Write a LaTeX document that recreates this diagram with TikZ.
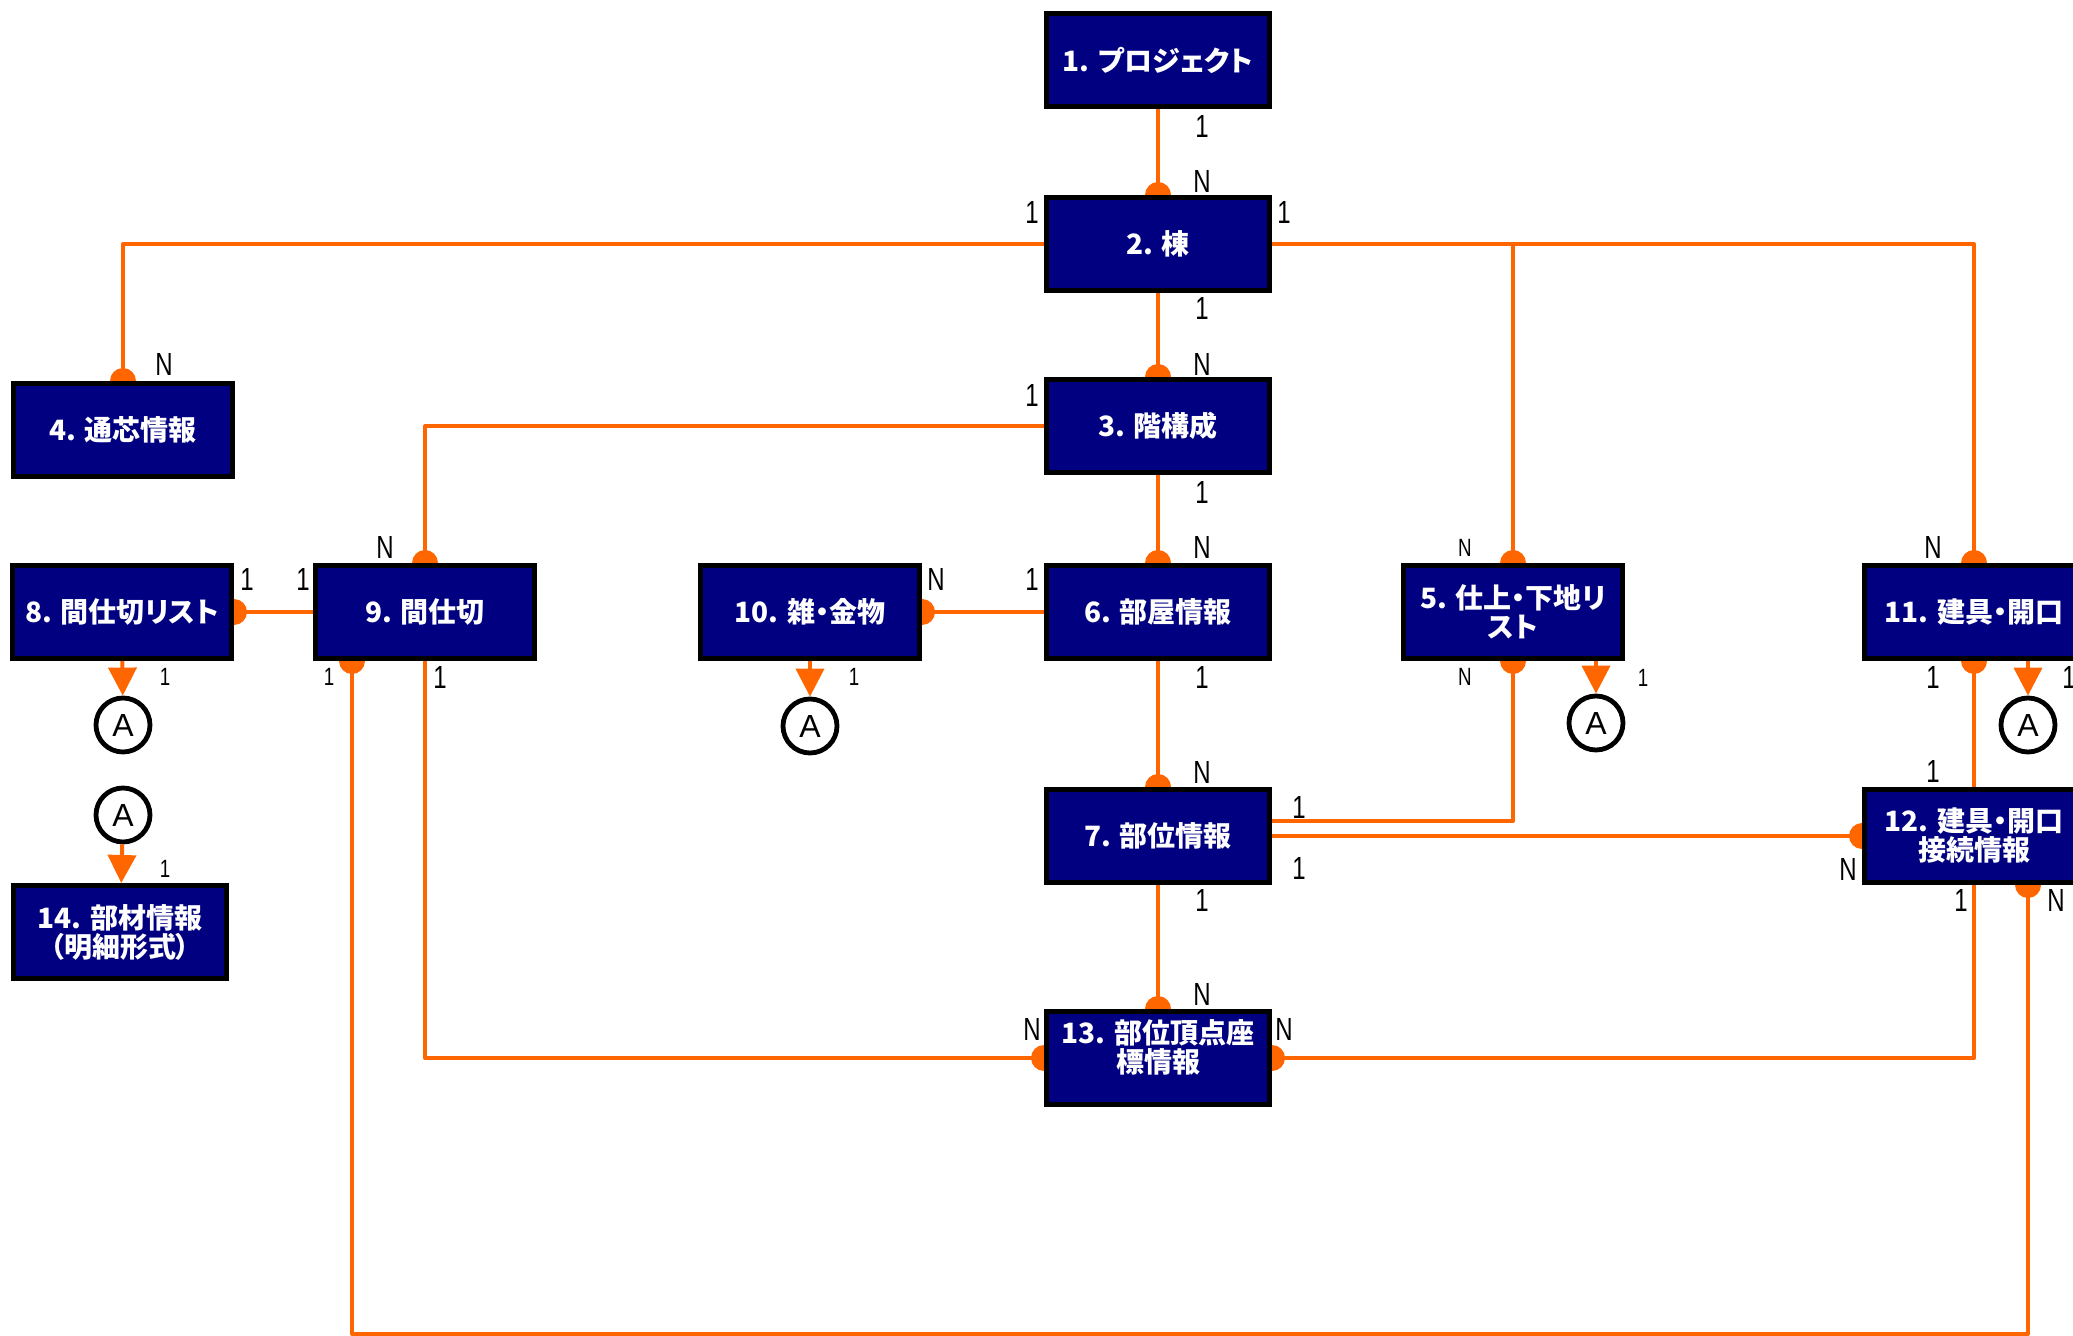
\documentclass[tikz,border=0pt]{standalone}
\usepackage{fontspec}
\newfontfamily\jpfont[RawFeature=+palt]{Noto Sans CJK JP}
\newfontfamily\lblfont[FakeStretch=0.75]{Liberation Sans}
\newfontfamily\afont{Liberation Sans}
\usetikzlibrary{arrows.meta,backgrounds}
\definecolor{boxblue}{RGB}{0,0,128}
\definecolor{linkorange}{RGB}{255,102,0}

\begin{document}
\begin{tikzpicture}[x=0.5pt,y=-0.5pt]
	\useasboundingbox (0,0) rectangle (2073,1336);
	\begin{scope}
		\tikzstyle{enttxt}=[text=white, inner sep=0pt, align=center, font=\jpfont\bfseries\fontsize{14}{14.5}\selectfont]
		\tikzstyle{ent}=[enttxt, draw=black, line width=2.5pt, fill=boxblue, minimum width=109.5pt, minimum height=46.5pt]
		\tikzstyle{wide}=[minimum width=111.5pt]
		\tikzstyle{card}=[inner sep=0pt, font=\lblfont\fontsize{16}{16}\selectfont]
		\tikzstyle{cards}=[inner sep=0pt, font=\lblfont\fontsize{12.5}{12.5}\selectfont]
		\tikzstyle{refc}=[circle, draw=black, line width=2.4pt, fill=white, minimum size=27pt, inner sep=0pt, font=\afont\fontsize{16}{16}\selectfont]
		\tikzstyle{conn}=[draw=linkorange, line width=2pt, line join=round]
		\tikzstyle{toref}=[conn, -{Triangle[length=14pt,width=14pt]}]

		\node[ent, wide] (n1)  at (1158, 60)   {1. プロジェクト};
		\node[ent, wide] (n2)  at (1158, 244)  {2. 棟};
		\node[ent, wide] (n3)  at (1158, 426)  {3. 階構成};
		\node[ent]       (n4)  at (123, 430)   {4. 通芯情報};
		\node[ent]       (n8)  at (122, 612)   {8. 間仕切リスト};
		\node[ent]       (n9)  at (425, 612)   {9. 間仕切};
		\node[ent]       (n10) at (810, 612)   {10. 雑・金物};
		\node[ent, wide] (n6)  at (1158, 612)  {6. 部屋情報};
		\node[ent]       (n5)  at (1513, 612)  {5. 仕上・下地リ\\スト};
		\node[ent]       (n11) at (1974, 612)  {11. 建具・開口};
		\node[ent, wide] (n7)  at (1158, 836)  {7. 部位情報};
		\node[ent]       (n12) at (1974, 836)  {12. 建具・開口\\接続情報};
		\node[ent, wide] (n13) at (1158, 1058) {};
		\node[enttxt]    (t13) at (1158, 1047) {13. 部位頂点座\\標情報};
		\node[ent, minimum width=106.5pt] (n14) at (120, 932) {14. 部材情報\\（明細形式）};

		\node[refc] (a8)  at (123, 725)  {A};
		\node[refc] (a10) at (810, 726)  {A};
		\node[refc] (a5)  at (1596, 723) {A};
		\node[refc] (a11) at (2028, 725) {A};
		\node[refc] (a14) at (123, 815)  {A};

		\coordinate (n9d)  at ([xshift=-36.5pt]n9.south);
		\coordinate (n12d) at ([xshift=27pt]n12.south);
		\coordinate (n5a)  at ([xshift=41.5pt]n5.south);
		\coordinate (n11a) at ([xshift=27pt]n11.south);
		\coordinate (lowL) at (352, 1334);
		\coordinate (lowR) at (2028, 1334);

		% connectors behind the boxes
		\begin{scope}[on background layer]
			\draw[conn] (n1) -- (n2);
			\draw[conn] (n2) -| (n4);
			\draw[conn] (n2) -| (n5);
			\draw[conn] (n2) -| (n11);
			\draw[conn] (n2) -- (n3);
			\draw[conn] (n3) -| (n9);
			\draw[conn] (n3) -- (n6);
			\draw[conn] (n8) -- (n9);
			\draw[conn] (n10) -- (n6);
			\draw[conn] (n6) -- (n7);
			\draw[conn] (n7) -- (n13);
			\draw[conn] (n5) |- ([yshift=7.5pt]n7.east);
			\draw[conn] (n7) -- (n12);
			\draw[conn] (n11) -- (n12);
			\draw[conn] (n9) |- (n13);
			\draw[conn] (n12) |- (n13);
			\draw[conn] (n9d) -- (lowL) -- (lowR) -- (n12d);

			\foreach \p in {n2.north, n4.north, n3.north, n9.north, n6.north, n5.north, n11.north, n8.east, n10.east, n7.north, n5.south, n11.south, n12.west, n13.north, n13.west, n13.east, n9d, n12d}
				\fill[linkorange] (\p) circle (6.5pt);
		\end{scope}

		\draw[toref] (n8) -- (a8);
		\draw[toref] (n10) -- (a10);
		\draw[toref] (n5a) -- (a5);
		\draw[toref] (n11a) -- (a11);
		\draw[toref] (a14) -- (n14);

		% multiplicities
		\node[card] (c1b)  at (1202, 126)  {1};
		\node[card] (c2t)  at (1202, 181)  {N};
		\node[card] (c2l)  at (1032, 212)  {1};
		\node[card] (c2r)  at (1284, 212)  {1};
		\node[card] (c2b)  at (1202, 308)  {1};
		\node[card] (c3t)  at (1202, 364)  {N};
		\node[card] (c4t)  at (164, 364)   {N};
		\node[card] (c3l)  at (1032, 395)  {1};
		\node[card] (c3b)  at (1202, 492)  {1};
		\node[card] (c6t)  at (1202, 547)  {N};
		\node[card] (c9t)  at (385, 547)   {N};
		\node[card] (c11t) at (1933, 547)  {N};
		\node[card] (c8r)  at (247, 579)   {1};
		\node[card] (c9l)  at (303, 579)   {1};
		\node[card] (c10r) at (936, 579)   {N};
		\node[card] (c6l)  at (1032, 579)  {1};
		\node[card] (c9b)  at (440, 677)   {1};
		\node[card] (c6b)  at (1202, 677)  {1};
		\node[card] (c11b) at (1933, 677)  {1};
		\node[card] (c11a) at (2069, 677)  {1};
		\node[card] (c7t)  at (1202, 772)  {N};
		\node[card] (c12t) at (1933, 771)  {1};
		\node[card] (c7r)  at (1299, 807)  {1};
		\node[card] (c7s)  at (1299, 868)  {1};
		\node[card] (c12l) at (1848, 869)  {N};
		\node[card] (c7b)  at (1202, 900)  {1};
		\node[card] (c12b) at (1961, 900)  {1};
		\node[card] (c12d) at (2056, 900)  {N};
		\node[card] (c13t) at (1202, 994)  {N};
		\node[card] (c13l) at (1032, 1029) {N};
		\node[card] (c13r) at (1284, 1029) {N};

		\node[cards] (c5t)  at (1465, 548) {N};
		\node[cards] (c5b)  at (1465, 677) {N};
		\node[cards] (c5a)  at (1643, 678) {1};
		\node[cards] (c8a)  at (165, 677)  {1};
		\node[cards] (c10a) at (854, 677)  {1};
		\node[cards] (c9d)  at (329, 677)  {1};
		\node[cards] (c14t) at (165, 869)  {1};
	\end{scope}
\end{tikzpicture}
\end{document}
